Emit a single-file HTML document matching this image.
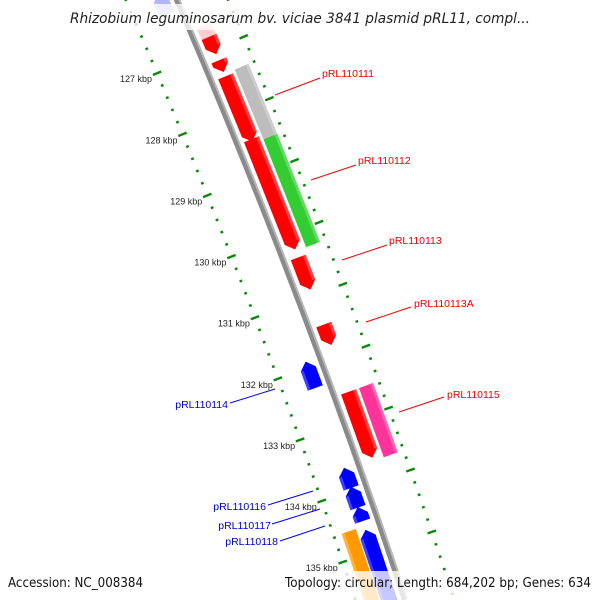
<!DOCTYPE html>
<html><head><meta charset="utf-8"><style>
html,body{margin:0;padding:0;background:#fff;overflow:hidden;}
svg{display:block;font-family:"Liberation Sans",sans-serif;}
</style></head><body>
<svg id="c" width="600" height="600" viewBox="0 0 600 600"></svg>
<script>
// ---- data ----
const tickStart = 125.8;
const tickEnd = 136.3;
const majorTicks = [127,128,129,130,131,132,133,134,135];
const featStart = [126.6,126.8,127.18,127.44,128.46,130.38,131.47,132.56,127.4,128.53,132.56,125.9,131.9,133.63,133.94,134.27,134.64,134.58];
const featEnd   = [126.95,127.08,127.37,128.5,130.25,130.9,131.8,133.63,128.53,130.28,133.68,126.25,132.33,133.96,134.28,134.5,136.2,136.2];
const featTrack = ['f','f','f','f','f','f','f','f','fo','fo','fo','r','r','r','r','r','r','ro'];
const featColor = ['#ffcccc','#ff0000','#ff0000','#ff0000','#ff0000','#ff0000','#ff0000','#ff0000','#bdbdbd','#33cc33','#ff3399','#b3b3ff','#0000ff','#0000ff','#0000ff','#0000ff','#0000ff','#ff9900'];
const featArrow = [1,1,1,1,1,1,1,1,0,0,0,1,1,1,1,1,1,0];
const labelText = ['pRL110111','pRL110112','pRL110113','pRL110113A','pRL110115','pRL110114','pRL110116','pRL110117','pRL110118'];
const labelX = [322,358,389,414,447,228,266,271,278];
const labelY = [77,164,244,307,398,408,510,529,545];
const labelColor = ['#e00','#e00','#e00','#e00','#e00','#00c','#00c','#00c','#00c'];
const lineFrom = [[275,95],[311,180],[342,260],[366,322],[399,412],[230,403],[268,505],[272,524],[280,541]];
const lineTo = [[320,78],[356,165],[387,245],[411,307],[444,397],[275,389],[313,491],[320,509],[325,526]];

const S="http://www.w3.org/2000/svg";
const svg=document.getElementById('c');
function mk(tag,attrs,parent){const e=document.createElementNS(S,tag);for(const k in attrs)e.setAttribute(k,attrs[k]);(parent||svg).appendChild(e);return e;}
const P0=[177,0],P1=[306,300],P2=[405,600];
function bb(t){const a=(1-t)*(1-t),b=2*t*(1-t),c=t*t;return [a*P0[0]+b*P1[0]+c*P2[0],a*P0[1]+b*P1[1]+c*P2[1]];}
function tan(t){const dx=2*(1-t)*(P1[0]-P0[0])+2*t*(P2[0]-P1[0]);const dy=2*(1-t)*(P1[1]-P0[1])+2*t*(P2[1]-P1[1]);const L=Math.hypot(dx,dy);return [dx/L,dy/L];}
function kToT(k){return (55+61.5*(k-127))/600;}
function pos(k,o){const t=kToT(k);const p=bb(t);const d=tan(t);return [p[0]+o*d[1],p[1]-o*d[0]];}
function pts(a){return a.map(p=>p[0].toFixed(1)+','+p[1].toFixed(1)).join(' ');}

const bbPath=`M${P0[0]-8},-20 L${P0[0]},${P0[1]} Q${P1[0]},${P1[1]} ${P2[0]},${P2[1]}`;
const b1=mk('path',{d:bbPath,stroke:'#8a8a8a','stroke-width':6,fill:'none'});


const b2=mk('path',{d:bbPath,stroke:'#b8b8b8','stroke-width':2,fill:'none',transform:'translate(2,-1)'});



const tg=mk('g',{});


for(let i=0;;i++){const k=tickStart+i*0.2;if(k>tickEnd)break;
  const major=majorTicks.some(m=>Math.abs(m-k)<0.01);
  const h=major?4.5:1.4;
  [-47,47].forEach(o=>{const a=pos(k,o-h),b=pos(k,o+h);
    const l=mk('line',{x1:a[0],y1:a[1],x2:b[0],y2:b[1],stroke:'#0a8a0a','stroke-width':major?2.4:2.4},tg);
    
    });
}
majorTicks.forEach(m=>{const p=pos(m,-47);
  const tx=mk('text',{x:p[0]-5,y:p[1]+9,'text-anchor':'end','font-size':9,fill:'#222'});
  tx.textContent=m+' kbp';
  
  });

const fg=mk('g',{});


const tracks={f:[7,23],fo:[26,41],r:[-7,-23],ro:[-24,-39]};
featStart.forEach((k0,i)=>{const k1=featEnd[i];const [o1,o2]=tracks[featTrack[i]];const om=(o1+o2)/2;
  let poly;const h=0.12;
  if(!featArrow[i]) poly=[pos(k0,o1),pos(k1,o1),pos(k1,o2),pos(k0,o2)];
  else if(featTrack[i][0]==='f') poly=[pos(k0,o1),pos(k1-h,o1),pos(k1,om),pos(k1-h,o2),pos(k0,o2)];
  else poly=[pos(k0+h,o1),pos(k1,o1),pos(k1,o2),pos(k0+h,o2),pos(k0,om)];
  const e=mk('polygon',{points:pts(poly),fill:featColor[i]},fg);
  
  
  const so=o2>0?o2-3:o2+3;
  const a0=featArrow[i]&&featTrack[i][0]==='r'?h:0, a1=featArrow[i]&&featTrack[i][0]==='f'?h:0;
  const s=mk('polygon',{points:pts([pos(k0+a0,so),pos(k1-a1,so),pos(k1-a1,o2),pos(k0+a0,o2)]),fill:'#ffffff','fill-opacity':0.25},fg);
  
  
});

labelText.forEach((t,i)=>{
  const l=mk('line',{x1:lineFrom[i][0],y1:lineFrom[i][1],x2:lineTo[i][0],y2:lineTo[i][1],stroke:labelColor[i]==='#e00'?'#f00':'#00f','stroke-width':1});
  
  
  const tx=mk('text',{x:labelX[i],y:labelY[i],'font-size':10.5,fill:labelColor[i],'text-anchor':i<5?'start':'end'});
  tx.textContent=t;
  
  
});

const tb=mk('rect',{x:60,y:4,width:480,height:26,fill:'#fff','fill-opacity':0.78});


const ti=mk('text',{x:70,y:23,'font-size':14,'font-style':'italic',fill:'#222','font-family':'DejaVu Sans, sans-serif',textLength:460,lengthAdjust:'spacingAndGlyphs'});
ti.textContent='Rhizobium leguminosarum bv. viciae 3841 plasmid pRL11, compl...';


const fb=mk('rect',{x:0,y:571,width:600,height:29,fill:'#fff','fill-opacity':0.78});


const f1=mk('text',{x:8,y:587,'font-size':13,fill:'#111','font-family':'DejaVu Sans, sans-serif',textLength:135,lengthAdjust:'spacingAndGlyphs'});
f1.textContent='Accession: NC_008384';


const f2=mk('text',{x:285,y:587,'font-size':13,fill:'#111','font-family':'DejaVu Sans, sans-serif',textLength:306,lengthAdjust:'spacingAndGlyphs'});
f2.textContent='Topology: circular; Length: 684,202 bp; Genes: 634';


</script>
</body></html>
